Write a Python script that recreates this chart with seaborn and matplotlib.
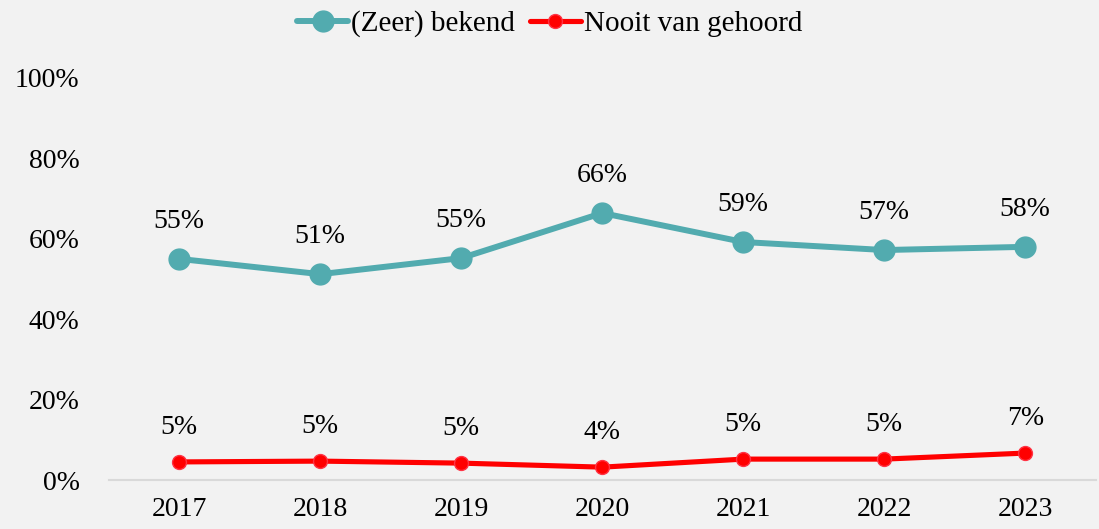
import matplotlib
matplotlib.use("Agg")
import matplotlib.pyplot as plt
import seaborn as sns
import pandas as pd

# values
years = ["2017", "2018", "2019", "2020", "2021", "2022", "2023"]
bekend = [55.0, 51.2, 55.2, 66.4, 59.2, 57.2, 58.0]
nooit = [4.5, 4.7, 4.2, 3.2, 5.2, 5.2, 6.7]
bekend_labels = ["55%", "51%", "55%", "66%", "59%", "57%", "58%"]
nooit_labels = ["5%", "5%", "5%", "4%", "5%", "5%", "7%"]
series = ["(Zeer) bekend", "Nooit van gehoord"]
colors = ["#52abaf", "#ff0000"]
edges = ["#52abaf", "#ff3344"]

df = pd.DataFrame({
    "jaar": years * 2,
    "pct": bekend + nooit,
    "reeks": [series[0]] * len(years) + [series[1]] * len(years),
})

sns.set_theme(style="white")
plt.rcParams["font.family"] = ["Liberation Serif", "DejaVu Serif"]
plt.rcParams["text.color"] = "black"
plt.rcParams["xtick.color"] = "black"
plt.rcParams["ytick.color"] = "black"
bg = "#f2f2f2"
fs = 20

fig = plt.figure(figsize=(10.99, 5.29), dpi=100, facecolor=bg)
ax = fig.add_axes([0.099, 0.0926, 0.898, 0.76])
ax.set_facecolor(bg)

sns.lineplot(data=df, x="jaar", y="pct", hue="reeks", palette=colors,
             marker="o", ax=ax, legend=False)
sizes = [15, 10]
widths = [4.3, 3.7]
for ln, e, ms, lw in zip(ax.lines, edges, sizes, widths):
    ln.set_markeredgecolor(e)
    ln.set_markeredgewidth(1)
    ln.set_markersize(ms)
    ln.set_linewidth(lw)

for i in range(len(years)):
    ax.annotate(bekend_labels[i], (i, bekend[i]), xytext=(0, 27),
                textcoords="offset points", ha="center", va="center", fontsize=fs)
    ax.annotate(nooit_labels[i], (i, nooit[i]), xytext=(0, 25),
                textcoords="offset points", ha="center", va="center", fontsize=fs)

ax.set_ylim(0, 100)
ax.set_xlim(-0.5, len(years) - 0.5)
ax.set_yticks(range(0, 101, 20))
ax.set_yticklabels([f"{v}%" for v in range(0, 101, 20)])
ax.tick_params(axis="both", length=0, labelsize=fs)
ax.tick_params(axis="y", pad=21)
ax.tick_params(axis="x", pad=12)
ax.set_xlabel("")
ax.set_ylabel("")
for s in ["top", "right", "left"]:
    ax.spines[s].set_visible(False)
ax.spines["bottom"].set_color("#d9d9d9")
ax.spines["bottom"].set_linewidth(1.5)

handles = [plt.Line2D([], [], color=c, marker="o", markersize=ms, linewidth=lw,
                      markeredgecolor=e)
           for c, e, ms, lw in zip(colors, edges, sizes, widths)]
fig.legend(handles, series, loc="upper center", bbox_to_anchor=(0.5, 1.03),
           ncol=2, frameon=False, fontsize=21, handlelength=1.75,
           handletextpad=0.1, columnspacing=0.5)

fig.savefig("out.png", dpi=100, facecolor=bg)
